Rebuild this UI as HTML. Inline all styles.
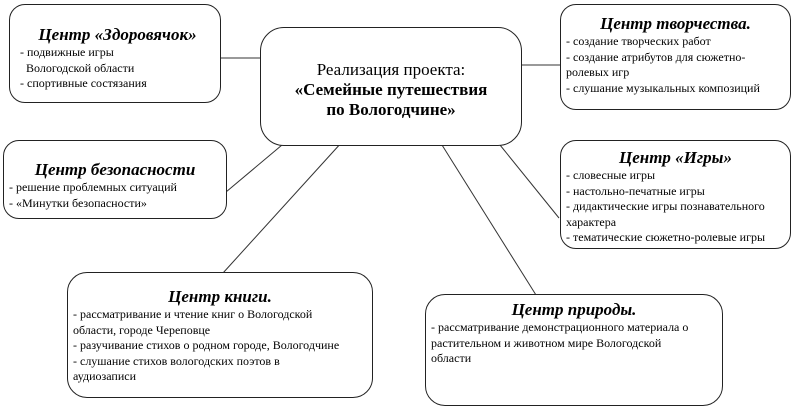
<!DOCTYPE html>
<html><head><meta charset="utf-8"><style>
body{margin:0;width:800px;height:410px;background:#fff;position:relative;overflow:hidden;font-family:"Liberation Serif","DejaVu Serif",serif;color:#000}
.b{position:absolute;border:1px solid #222;border-radius:16px;box-sizing:border-box;background:#fff;font-size:12px;line-height:15.5px;padding:0 5px}
.t{font-weight:bold;font-style:italic;font-size:17px;text-align:center;line-height:20px}
svg{position:absolute;left:0;top:0}
</style></head><body>
<svg width="800" height="410"><g stroke="#333" stroke-width="1">
<line x1="220" y1="58" x2="261" y2="58"/>
<line x1="521" y1="65" x2="561" y2="65"/>
<line x1="226" y1="192" x2="282" y2="145"/>
<line x1="342" y1="142" x2="223" y2="273"/>
<line x1="500" y1="145" x2="559" y2="218"/>
<line x1="442" y1="145" x2="536" y2="295"/>
</g></svg>
<div class="b" style="left:9px;top:4px;width:212px;height:99px;padding-top:20px;padding-left:10px"><div class="t">Центр «Здоровячок»</div>- подвижные игры<br>&nbsp;&nbsp;Вологодской области<br>- спортивные состязания</div>
<div class="b" style="left:260px;top:27px;width:262px;height:119px;padding-top:32px;text-align:center;font-size:17px;line-height:20px;border-radius:24px">Реализация проекта:<br><b>«Семейные путешествия<br>по Вологодчине»</b></div>
<div class="b" style="left:560px;top:4px;width:231px;height:106px;padding-top:9px"><div class="t">Центр творчества.</div>- создание творческих работ<br>- создание атрибутов для сюжетно-<br>ролевых игр<br>- слушание музыкальных композиций</div>
<div class="b" style="left:3px;top:140px;width:224px;height:79px;padding-top:19px"><div class="t">Центр безопасности</div>- решение проблемных ситуаций<br>- «Минутки безопасности»</div>
<div class="b" style="left:560px;top:140px;width:231px;height:109px;padding-top:7px"><div class="t">Центр «Игры»</div>- словесные игры<br>- настольно-печатные игры<br>- дидактические игры познавательного<br>характера<br>- тематические сюжетно-ролевые игры</div>
<div class="b" style="left:67px;top:272px;width:306px;height:126px;padding-top:14px;border-radius:20px"><div class="t">Центр книги.</div>- рассматривание и чтение книг о Вологодской<br>области, городе Череповце<br>- разучивание стихов о родном городе, Вологодчине<br>- слушание стихов вологодских поэтов в<br>аудиозаписи</div>
<div class="b" style="left:425px;top:294px;width:298px;height:112px;padding-top:5px;border-radius:20px"><div class="t">Центр природы.</div>- рассматривание демонстрационного материала о<br>растительном и животном мире Вологодской<br>области</div>
</body></html>
